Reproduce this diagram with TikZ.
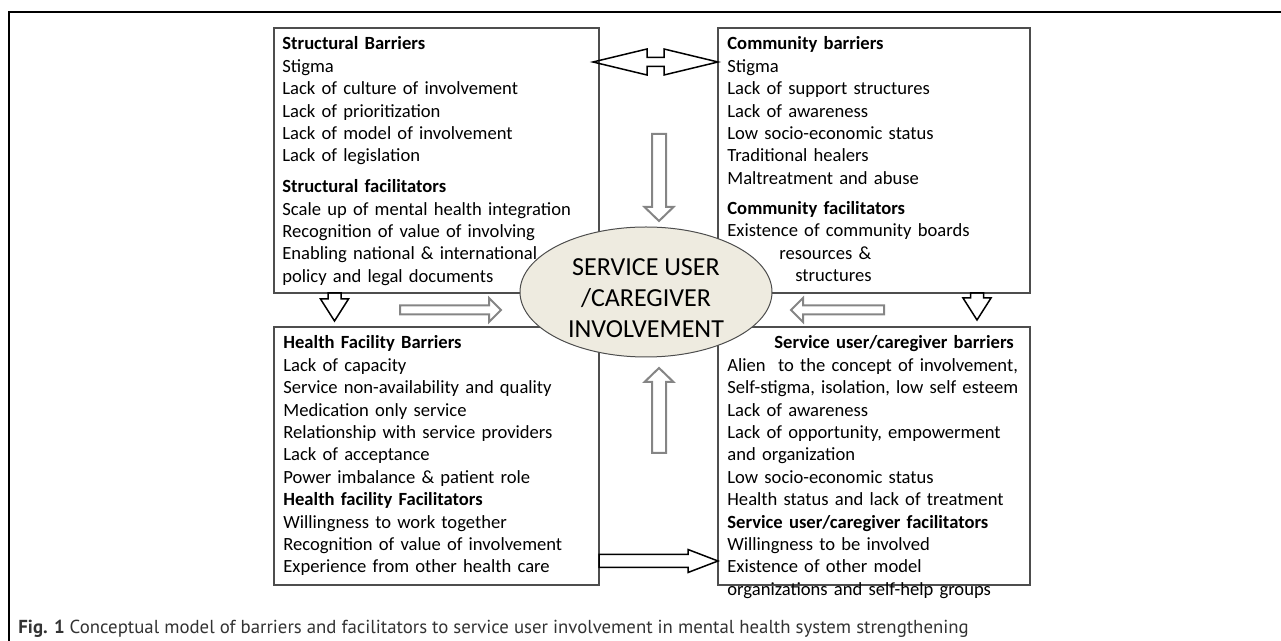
\documentclass[tikz,border=0pt]{standalone}
\usepackage{fontspec}
\setmainfont{Carlito}
\newfontfamily\capfont{PT Sans}
\usetikzlibrary{calc,shapes.geometric}

\definecolor{hubfill}{HTML}{EEEBE0}
\definecolor{boxline}{HTML}{4D4D4D}
\definecolor{softgrey}{HTML}{858585}

\tikzset{
  box/.style={draw=boxline, line width=0.6pt, rectangle, inner sep=0pt, outer sep=0pt, anchor=north west},
  list/.style={anchor=base west, inner sep=0pt, text width=165pt, align=left, font=\fontsize{9.3}{11.2}\selectfont},
  hub/.style={ellipse, draw=boxline, fill=hubfill, line width=0.5pt, minimum width=126pt, minimum height=65pt, inner sep=0pt},
  hubtext/.style={align=center, inner sep=0pt, font=\fontsize{13}{15.5}\selectfont},
  greyblock/.style={draw=softgrey, line width=1pt},
  blackblock/.style={draw=black, line width=0.75pt},
  frame/.style={line width=0.65pt, rounded corners=5pt}
}

% style, from, to, shaft half width, head half width, head length
\newcommand{\blockarrow}[6]{%
  \path ($(#3)!#6!(#2)$) coordinate (ba-back);
  \draw[#1] ($(#2)!#4!90:(#3)$) -- ($(ba-back)!#4!90:(#3)$) -- ($(ba-back)!#5!90:(#3)$)
    -- (#3) -- ($(ba-back)!#5!-90:(#3)$) -- ($(ba-back)!#4!-90:(#3)$)
    -- ($(#2)!#4!-90:(#3)$) -- cycle;
}
\newcommand{\dblblockarrow}[6]{%
  \path ($(#2)!#6!(#3)$) coordinate (ba-a) ($(#3)!#6!(#2)$) coordinate (ba-b);
  \draw[#1] (#2) -- ($(ba-a)!#5!90:(#3)$) -- ($(ba-a)!#4!90:(#3)$) -- ($(ba-b)!#4!90:(#3)$)
    -- ($(ba-b)!#5!90:(#3)$) -- (#3) -- ($(ba-b)!#5!-90:(#3)$) -- ($(ba-b)!#4!-90:(#3)$)
    -- ($(ba-a)!#4!-90:(#3)$) -- ($(ba-a)!#5!-90:(#3)$) -- cycle;
}

\begin{document}
\begin{tikzpicture}[x=0.5pt, y=-0.5pt]
  \useasboundingbox (0,0) rectangle (1281,641);
  \draw (9,641) -- (9,12) -- (1281,12) [frame];

  \node[box, minimum width=162.5pt, minimum height=132.5pt] (tl) at (274,28) {};
  \node[box, minimum width=156pt, minimum height=132.5pt] (tr) at (718,28) {};
  \node[box, minimum width=162.5pt, minimum height=129pt] (bl) at (274,327) {};
  \node[box, minimum width=156pt, minimum height=129pt] (br) at (718,327) {};

  \node[list] (tltext) at ($(tl.north west)+(8,22)$) {\textbf{Structural Barriers}\\
    Stigma\\ Lack of culture of involvement\\ Lack of prioritization\\
    Lack of model of involvement\\ Lack of legislation\\[4.2pt]
    \textbf{Structural facilitators}\\ Scale up of mental health integration\\
    Recognition of value of involving\\ Enabling national \& international\\
    policy and legal documents};
  \node[list] (trtext) at ($(tr.north west)+(9,22)$) {\textbf{Community barriers}\\
    Stigma\\ Lack of support structures\\ Lack of awareness\\
    Low socio-economic status\\ Traditional healers\\ Maltreatment and abuse\\[3.8pt]
    \textbf{Community facilitators}\\ Existence of community boards\\
    \hspace*{26pt}resources \&\\ \hspace*{34pt}structures};
  \node[list] (bltext) at ($(bl.north west)+(9,22)$) {\textbf{Health Facility Barriers}\\
    Lack of capacity\\ Service non-availability and quality\\ Medication only service\\
    Relationship with service providers\\ Lack of acceptance\\
    Power imbalance \& patient role\\ \textbf{Health facility Facilitators}\\
    Willingness to work together\\ Recognition of value of involvement\\
    Experience from other health care};
  \node[list] (brtext) at ($(br.north west)+(9,22)$) {\hspace*{23.5pt}\textbf{Service user/caregiver barriers}\\
    Alien\ \ to the concept of involvement,\\ Self-stigma, isolation, low self esteem\\
    Lack of awareness\\ Lack of opportunity, empowerment\\ and organization\\
    Low socio-economic status\\ Health status and lack of treatment\\
    \textbf{Service user/caregiver facilitators}\\ Willingness to be involved\\
    Existence of other model\\ organizations and self-help groups};

  \node[hub] (hub) at (646,292) {};
  \node[hubtext] (hubtext) at ($(hub.center)+(0,6)$) {SERVICE USER\\/CAREGIVER\\INVOLVEMENT};

  \coordinate (link-l) at ($(tl.north east)+(-6,34)$);
  \coordinate (link-r) at ($(tr.north west)+(0,34)$);
  \dblblockarrow{blackblock}{link-l}{link-r}{2.25pt}{6.5pt}{27pt}

  \coordinate (down-s) at (659,134);
  \coordinate (down-e) at (659,221);
  \coordinate (up-s) at (659,453);
  \coordinate (up-e) at (659,368);
  \coordinate (right-s) at (400,310);
  \coordinate (right-e) at (501,310);
  \coordinate (left-s) at (884,310);
  \coordinate (left-e) at (791,310);
  \blockarrow{greyblock}{down-s}{down-e}{3.5pt}{7.25pt}{7pt}
  \blockarrow{greyblock}{up-s}{up-e}{3.5pt}{7.25pt}{7pt}
  \blockarrow{greyblock}{right-s}{right-e}{2.25pt}{6pt}{6pt}
  \blockarrow{greyblock}{left-s}{left-e}{2.25pt}{6pt}{6pt}

  \coordinate (tl-drop) at ($(tl.south west)+(60.5,0)$);
  \coordinate (bl-top) at ($(tl-drop)+(0,28)$);
  \coordinate (tr-drop) at ($(tr.south west)+(259,0)$);
  \coordinate (br-top) at ($(tr-drop)+(0,27)$);
  \coordinate (bl-out) at ($(bl.north east)+(0,234)$);
  \coordinate (br-in) at ($(br.north west)+(0,234)$);
  \blockarrow{blackblock}{tl-drop}{bl-top}{3.25pt}{7pt}{11pt}
  \blockarrow{blackblock}{tr-drop}{br-top}{3.25pt}{7pt}{11pt}
  \blockarrow{blackblock}{bl-out}{br-in}{3.25pt}{5.75pt}{15pt}

  \node[anchor=base west, inner sep=0pt, text=black!80, font=\capfont\fontsize{9.4}{11}\selectfont] (caption) at (18,633)
    {\textbf{Fig. 1} Conceptual model of barriers and facilitators to service user involvement in mental health system strengthening};
\end{tikzpicture}
\end{document}
